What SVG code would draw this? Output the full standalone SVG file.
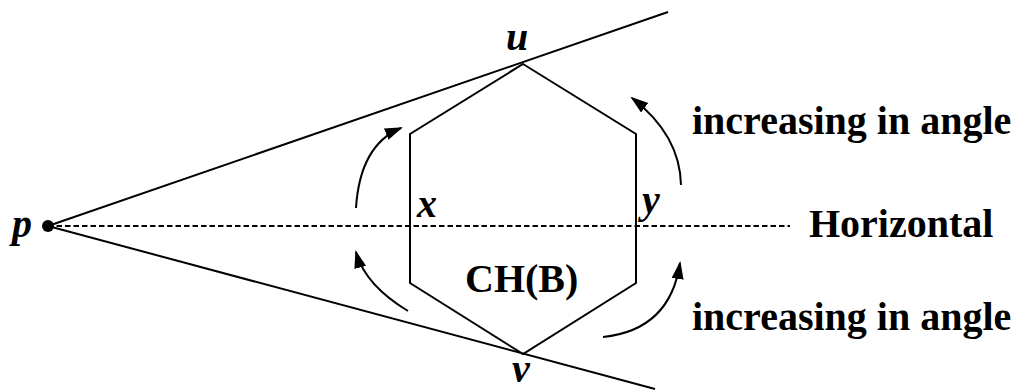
<svg xmlns="http://www.w3.org/2000/svg" width="1019" height="391" viewBox="0 0 1019 391">
<style>
.ln{stroke:#000;stroke-width:2;fill:none}
.dash{stroke:#000;stroke-width:1.8;stroke-dasharray:5.5 3;fill:none}
.arc{stroke:#000;stroke-width:2;fill:none;marker-end:url(#ah)}
.t{font-family:"Liberation Serif","Times New Roman",serif;font-weight:bold;font-size:40px;fill:#000}
.v{font-family:"Liberation Serif","Times New Roman",serif;font-weight:bold;font-style:italic;font-size:40px;fill:#000}
</style>
<defs>
<marker id="ah" markerUnits="userSpaceOnUse" markerWidth="20" markerHeight="14" refX="16" refY="6" orient="auto">
<path d="M0,0 L18,6 L0,12 Z" fill="#000"/>
</marker>
</defs>
<rect width="1019" height="391" fill="#fff"/>
<g id="connectors">
<line class="dash" x1="48" y1="226" x2="790" y2="226"/>
<line class="ln" x1="48" y1="226" x2="668" y2="12"/>
<line class="ln" x1="48" y1="226" x2="655" y2="389"/>
<path class="arc" d="M356,208 Q360,145 401,128"/>
<path class="arc" d="M408,311 Q365,285 356,252"/>
<path class="arc" d="M681,185 Q680,135 632,98"/>
<path class="arc" d="M603,337 Q670,330 680,263"/>
</g>
<g id="node-p">
<circle cx="48" cy="226" r="6" fill="#000"/>
<text class="v" x="12" y="237">p</text>
</g>
<g id="node-hull">
<polygon class="ln" points="523,64 636,134 636,283 523,354 410,283 410,134"/>
<text class="t" x="465" y="292">CH(B)</text>
</g>
<g id="node-u"><text class="v" x="506" y="50">u</text></g>
<g id="node-v"><text class="v" x="512" y="382">v</text></g>
<g id="node-x"><text class="v" x="417" y="217">x</text></g>
<g id="node-y"><text class="v" x="642" y="213">y</text></g>
<g id="labels">
<text class="t" x="692" y="134">increasing in angle</text>
<text class="t" x="809" y="237">Horizontal</text>
<text class="t" x="692" y="330">increasing in angle</text>
</g>
</svg>
